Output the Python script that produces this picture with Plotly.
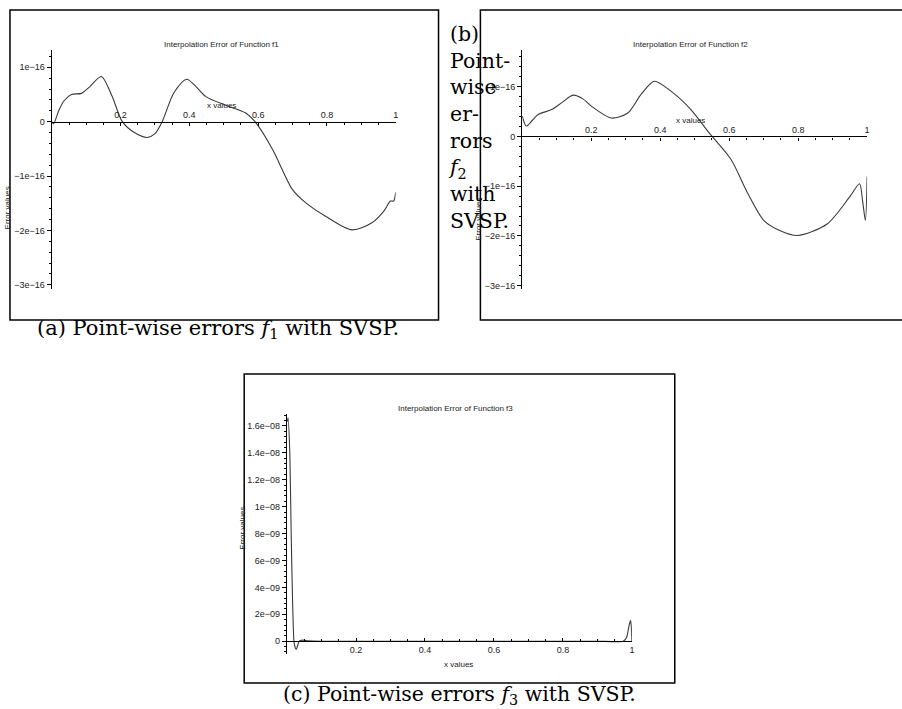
import plotly.graph_objects as go

W, H = 902, 709

# ---------------- data ----------------
# f1 : error values in units of 1e-16
f1_x = [0, 0.005, 0.02, 0.035, 0.057, 0.086, 0.11, 0.144, 0.175, 0.205, 0.24, 0.277, 0.30,
        0.321, 0.355, 0.392, 0.42, 0.448, 0.506, 0.564, 0.591, 0.642, 0.70, 0.738, 0.796,
        0.873, 0.931, 0.965, 0.985, 0.994, 1.0]
f1_err_e16 = [0, -0.04, 0.2, 0.38, 0.50, 0.52, 0.64, 0.83, 0.47, 0.0, -0.2, -0.29, -0.22,
              0.0, 0.53, 0.78, 0.64, 0.46, 0.30, 0.16, 0.0, -0.51, -1.25, -1.49, -1.74,
              -1.99, -1.86, -1.65, -1.46, -1.46, -1.30]

# f2 : error values in units of 1e-16
f2_x = [0, 0.012, 0.03, 0.046, 0.085, 0.115, 0.147, 0.175, 0.200, 0.258, 0.306, 0.345,
        0.383, 0.431, 0.489, 0.542, 0.605, 0.653, 0.701, 0.75, 0.798, 0.884, 0.952, 0.978,
        0.987, 0.995, 1.0]
f2_err_e16 = [0.41, 0.21, 0.33, 0.44, 0.54, 0.68, 0.83, 0.76, 0.61, 0.37, 0.47, 0.85,
              1.11, 0.91, 0.54, 0.07, -0.46, -1.13, -1.69, -1.90, -1.99, -1.76, -1.19, -0.95,
              -1.30, -1.69, -0.81]

# f3 : error values in units of 1e-9
f3_x = [0, 0.003, 0.008, 0.012, 0.016, 0.02, 0.024, 0.027, 0.031, 0.035, 0.045, 0.06, 0.1,
        0.5, 0.9, 0.975, 0.985, 0.992, 0.996, 0.998, 1.0]
f3_err_e9 = [16.3, 16.6, 14.0, 8.0, 3.0, 0.0, -0.5, -0.6, -0.3, 0.0, 0.08, 0.03, 0.0,
             0.0, 0.0, 0.0, 0.3, 1.2, 1.53, 1.2, 0.0]

x_ticks = [0.2, 0.4, 0.6, 0.8, 1.0]
x_ticktext = ["0.2", "0.4", "0.6", "0.8", "1"]
y16_ticks = [-3e-16, -2e-16, -1e-16, 0, 1e-16]
y16_ticktext = ["\u22123e\u221216", "\u22122e\u221216", "\u22121e\u221216", "0", "1e\u221216"]
y9_ticks = [0, 2e-9, 4e-9, 6e-9, 8e-9, 1e-8, 1.2e-8, 1.4e-8, 1.6e-8]
y9_ticktext = ["0", "2e\u221209", "4e\u221209", "6e\u221209", "8e\u221209", "1e\u221208",
               "1.2e\u221208", "1.4e\u221208", "1.6e\u221208"]

titles = ["Interpolation Error of Function f1", "Interpolation Error of Function f2",
          "Interpolation Error of Function f3"]


def px(x):
    return x / W


def py(y):
    return 1 - y / H


SANS = "Liberation Sans, Arial, sans-serif"
SERIF = "DejaVu Serif, serif"
CURVE = "#3a3a3a"

fig = go.Figure()
fig.add_trace(go.Scatter(x=f1_x, y=[v * 1e-16 for v in f1_err_e16], mode="lines",
                         line=dict(color=CURVE, width=1.1, shape="spline", smoothing=0.8),
                         xaxis="x", yaxis="y", showlegend=False))
fig.add_trace(go.Scatter(x=f2_x, y=[v * 1e-16 for v in f2_err_e16], mode="lines",
                         line=dict(color=CURVE, width=1.1, shape="spline", smoothing=0.8),
                         xaxis="x2", yaxis="y2", showlegend=False))
fig.add_trace(go.Scatter(x=f3_x, y=[v * 1e-9 for v in f3_err_e9], mode="lines",
                         line=dict(color=CURVE, width=1.1, shape="spline", smoothing=0.5),
                         xaxis="x3", yaxis="y3", showlegend=False))

panels = [
    # x domain px, y domain px (top,bottom), y range
    dict(xd=(52, 397), yd=(50, 290), yr=(-3.08e-16, 1.32e-16)),
    dict(xd=(524, 870), yd=(50, 290), yr=(-3.07e-16, 1.74e-16)),
    dict(xd=(288, 634), yd=(415, 656), yr=(-0.96e-9, 16.9e-9)),
]

layout = dict(width=W, height=H, margin=dict(l=0, r=0, t=0, b=0),
              paper_bgcolor="white", plot_bgcolor="rgba(0,0,0,0)", showlegend=False)

for i, p in enumerate(panels):
    sfx = "" if i == 0 else str(i + 1)
    y0d, y1d = py(p["yd"][1]), py(p["yd"][0])
    ymin, ymax = p["yr"]
    zero_pos = y0d + (0 - ymin) / (ymax - ymin) * (y1d - y0d)
    if i < 2:
        tv, tt, mdt = y16_ticks, y16_ticktext, 0.2e-16
    else:
        tv, tt, mdt = y9_ticks, y9_ticktext, 0.4e-9
    layout["xaxis" + sfx] = dict(
        domain=[px(p["xd"][0]), px(p["xd"][1])], range=[0, 1], anchor="free",
        position=zero_pos, side="top" if i < 2 else "bottom",
        showline=True, linecolor="black", linewidth=1.3, showgrid=False, zeroline=False,
        tickmode="array", tickvals=x_ticks, ticktext=x_ticktext, ticks="inside",
        ticklen=3, tickcolor="black", tickfont=dict(family=SANS, size=9, color="#222"),
        minor=dict(dtick=0.05, tick0=0, ticks="inside", ticklen=2, tickcolor="black",
                   showgrid=False),
        fixedrange=True)
    layout["yaxis" + sfx] = dict(
        domain=[y0d, y1d], range=[ymin, ymax], anchor="x" + sfx, side="left",
        showline=True, linecolor="black", linewidth=1.3, showgrid=False, zeroline=False,
        tickmode="array", tickvals=tv, ticktext=tt, ticks="outside", ticklen=4,
        tickcolor="black", tickfont=dict(family=SANS, size=9, color="#222"),
        minor=dict(dtick=mdt, tick0=0, ticks="outside", ticklen=2, tickcolor="black",
                   showgrid=False),
        fixedrange=True)

fig.update_layout(**layout)

# frames around each panel
frames = [(10, 10, 440, 321), (482, 10, 906, 321), (245, 375, 677, 685)]
for (x0, y0, x1, y1) in frames:
    fig.add_shape(type="rect", xref="paper", yref="paper", x0=px(x0), x1=px(x1),
                  y0=py(y1), y1=py(y0), line=dict(color="black", width=1.5),
                  fillcolor="rgba(0,0,0,0)", layer="below")

small = dict(family=SANS, size=8, color="#222")
# titles
for t, (x, y) in zip(titles, [(222, 45), (693, 45), (457, 410)]):
    fig.add_annotation(text=t, x=px(x), y=py(y), xref="paper", yref="paper",
                       showarrow=False, font=small, xanchor="center", yanchor="middle")
# x axis titles
for (x, y) in [(222, 106), (693, 121), (460, 666)]:
    fig.add_annotation(text="x values", x=px(x), y=py(y), xref="paper", yref="paper",
                       showarrow=False, font=small, xanchor="center", yanchor="middle")
# y axis titles
for (x, y) in [(7, 208), (480, 220), (243, 530)]:
    fig.add_annotation(text="Error values", x=px(x), y=py(y), xref="paper", yref="paper",
                       showarrow=False, font=small, textangle=-90,
                       xanchor="center", yanchor="middle")

cap = dict(family=SERIF, size=21, color="black")
fig.add_annotation(text="(a) Point-wise errors <i>f</i><sub>1</sub> with SVSP.",
                   x=px(35), y=py(330), xref="paper", yref="paper", showarrow=False,
                   font=cap, xanchor="left", yanchor="middle")
fig.add_annotation(text="(c) Point-wise errors <i>f</i><sub>3</sub> with SVSP.",
                   x=px(282), y=py(697), xref="paper", yref="paper", showarrow=False,
                   font=dict(family=SERIF, size=20.5, color="black"),
                   xanchor="left", yanchor="middle")
fig.add_annotation(text="(b)<br>Point-<br>wise<br>er-<br>rors<br><i>f</i><sub>2</sub><br>with<br>SVSP.",
                   x=px(447), y=py(20), xref="paper", yref="paper", showarrow=False,
                   font=dict(family=SERIF, size=20.5, color="black"),
                   xanchor="left", yanchor="top", align="left")

fig.write_html("out.html", config={"displayModeBar": False},
               post_script="document.body.style.margin='0';"
                           "document.body.style.overflow='hidden';")
